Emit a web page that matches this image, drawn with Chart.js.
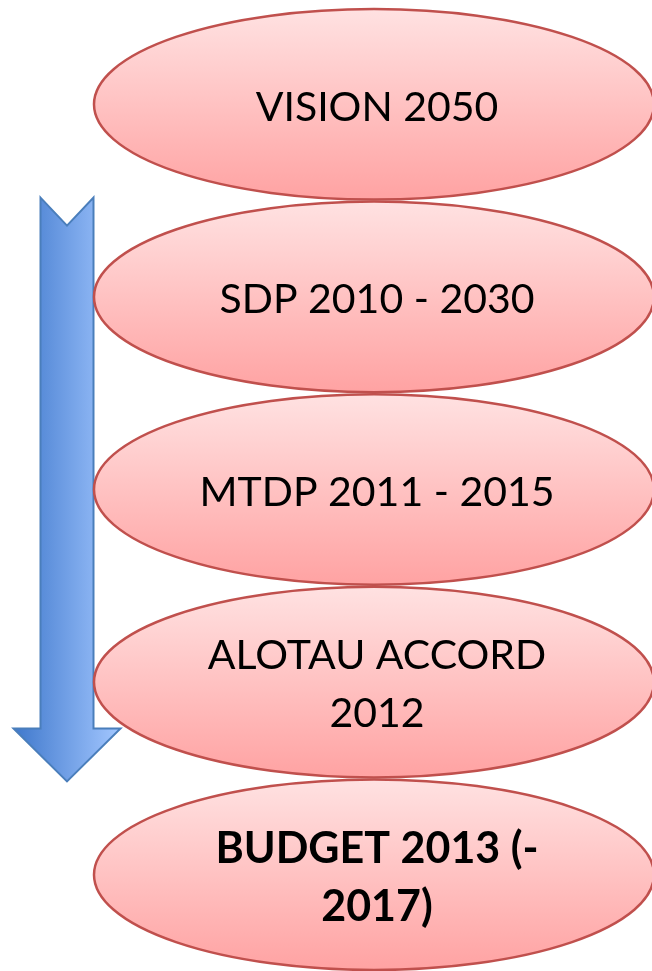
<!DOCTYPE html>
<html>
<head>
<meta charset="utf-8">
<script src="https://cdn.jsdelivr.net/npm/chart.js@4"></script>
<style>
  html, body { margin: 0; padding: 0; background: #fff; }
  #wrap { width: 652px; height: 971px; }
</style>
</head>
<body>
<div id="wrap"><canvas id="chart" width="652" height="971"></canvas></div>
<script>
// stages of the planning hierarchy, top to bottom
const stages = [
  ['VISION 2050'],
  ['SDP 2010 - 2030'],
  ['MTDP 2011 - 2015'],
  ['ALOTAU ACCORD', '2012'],
  ['BUDGET 2013 (-', '2017)']
];
const stageBold = [false, false, false, false, true];

// drawing styles
const ELLIPSE = { cx: 374, rx: 280, stroke: '#C0504D', top: '#FFE2E2', bottom: '#FFA2A2' };
const ARROW = { cx: 67, shaftW: 53, headW: 107, headH: 53, notch: 28 };

const diagramPlugin = {
  id: 'diagram',
  afterDatasetsDraw(chart) {
    const ctx = chart.ctx;
    const pts = chart.getDatasetMeta(0).data;
    const ry = (pts[1].y - pts[0].y) / 2;

    // downward arrow, from first gap to last gap
    const top = (pts[0].y + pts[1].y) / 2 - 3;
    const tip = (pts[3].y + pts[4].y) / 2 + 3;
    const cx = ARROW.cx;
    const sl = cx - ARROW.shaftW / 2, sr = cx + ARROW.shaftW / 2;
    const hl = cx - ARROW.headW / 2, hr = cx + ARROW.headW / 2;
    const hy = tip - ARROW.headH;
    ctx.save();
    ctx.beginPath();
    ctx.moveTo(sl, top);
    ctx.lineTo(cx, top + ARROW.notch);
    ctx.lineTo(sr, top);
    ctx.lineTo(sr, hy);
    ctx.lineTo(hr, hy);
    ctx.lineTo(cx, tip);
    ctx.lineTo(hl, hy);
    ctx.lineTo(sl, hy);
    ctx.closePath();
    const ag = ctx.createLinearGradient(hl, 0, hr, 0);
    ag.addColorStop(0, '#3F78CC');
    ag.addColorStop(1, '#A3C7FF');
    ctx.fillStyle = ag;
    ctx.fill();
    ctx.strokeStyle = '#4A7EBB';
    ctx.lineWidth = 2;
    ctx.stroke();
    ctx.restore();

    // ellipses with labels
    pts.forEach((p, i) => {
      ctx.save();
      ctx.beginPath();
      ctx.ellipse(p.x, p.y, ELLIPSE.rx, ry - 1, 0, 0, Math.PI * 2);
      const g = ctx.createLinearGradient(0, p.y - ry, 0, p.y + ry);
      g.addColorStop(0, ELLIPSE.top);
      g.addColorStop(1, ELLIPSE.bottom);
      ctx.fillStyle = g;
      ctx.fill();
      ctx.strokeStyle = ELLIPSE.stroke;
      ctx.lineWidth = 2.5;
      ctx.stroke();

      const lines = stages[i];
      const lh = 58;
      ctx.fillStyle = '#000';
      ctx.textAlign = 'center';
      ctx.textBaseline = 'middle';
      ctx.font = stageBold[i] ? 'bold 43px Lato, sans-serif' : '41px Lato, sans-serif';
      lines.forEach((t, k) => {
        const ty = p.y + 3 + (k - (lines.length - 1) / 2) * lh;
        ctx.fillText(t, p.x + 3, ty);
      });
      ctx.restore();
    });
  }
};

new Chart(document.getElementById('chart'), {
  type: 'scatter',
  data: {
    datasets: [{
      data: stages.map((s, i) => ({ x: ELLIPSE.cx, y: i })),
      pointRadius: 0
    }]
  },
  options: {
    responsive: false,
    animation: false,
    layout: { padding: { top: 8, bottom: 0, left: 0, right: 0 } },
    plugins: { legend: { display: false }, tooltip: { enabled: false } },
    scales: {
      x: { type: 'linear', min: 0, max: 652, display: false },
      y: { type: 'category', labels: stages.map((s, i) => i), offset: true, display: false }
    }
  },
  plugins: [diagramPlugin]
});
</script>
</body>
</html>
